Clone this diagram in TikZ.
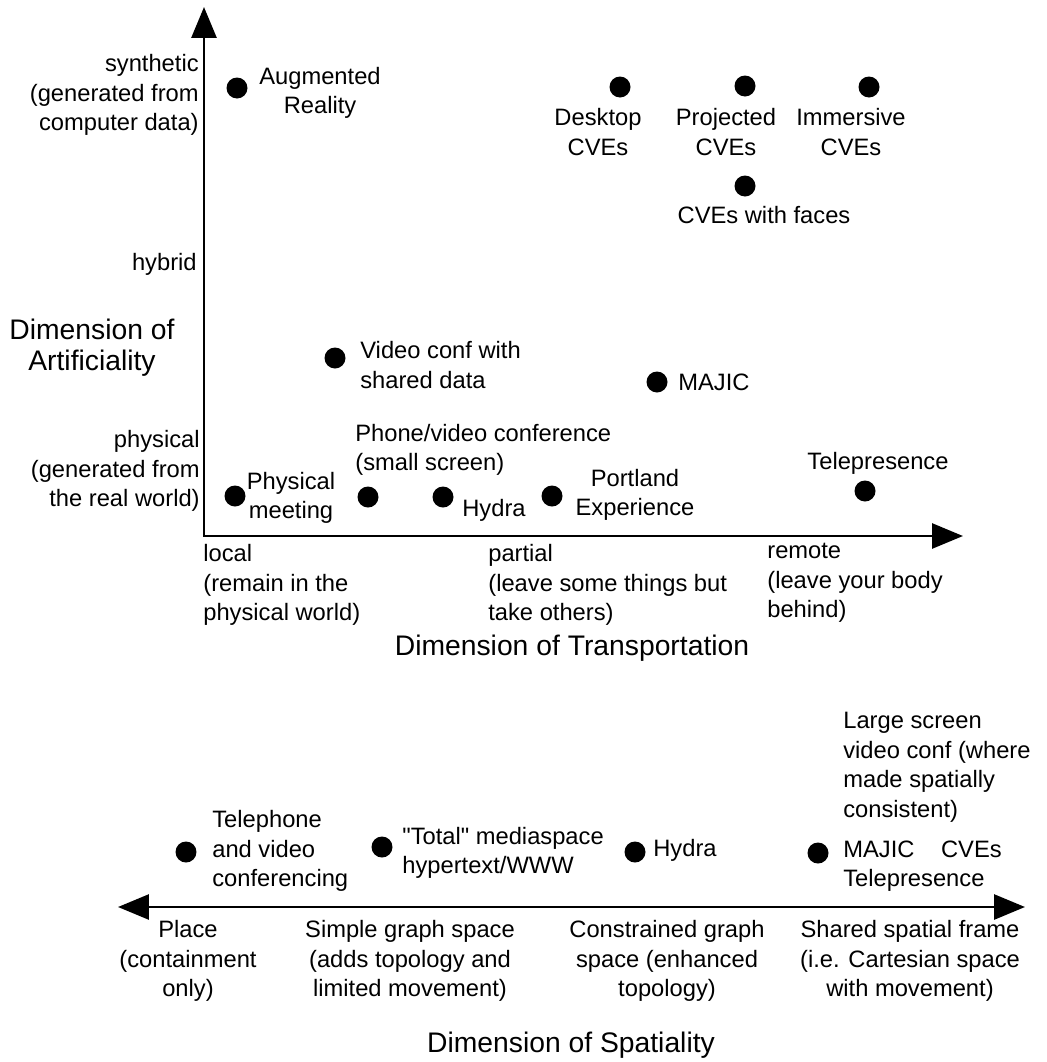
\documentclass[tikz,border=0pt]{standalone}
\usepackage{fontspec}
\setmainfont{Liberation Sans}[Ligatures=TeXOff]
\usetikzlibrary{arrows.meta}

\tikzset{
    dot/.style={circle, fill, inner sep=0pt, minimum size=0.42cm},
    lbl/.style={inner sep=0pt, font=\fontsize{13.5}{16.9}\selectfont},
    big/.style={inner sep=0pt, align=center, font=\fontsize{16.1}{17.8}\selectfont},
    axis/.style={line width=1.6pt, >={Triangle[length=0.62cm,width=0.5cm]}},
}

\begin{document}
\begin{tikzpicture}[x=0.02cm, y=-0.02cm]
        \useasboundingbox (0,0) rectangle (1046,1062);

        % artificiality / transportation
        \coordinate (o) at (204,536);
        \coordinate (ytop) at (204,7);
        \coordinate (xend) at (963,536);
        \draw[axis,<->] (ytop) -- (o) -- (xend);

        \node[lbl, anchor=east, align=right] (synth) at (199,95) {synthetic\\(generated from\\computer data)};
        \node[lbl, anchor=east] (hyb) at (197,264) {hybrid};
        \node[big] (dimart) at (92,348) {Dimension of\\Artificiality};
        \node[lbl, anchor=east, align=right] (phy) at (200,471) {physical\\(generated from\\the real world)};

        \node[lbl, anchor=west, align=left] (loc) at (203,585) {local\\(remain in the\\physical world)};
        \node[lbl, anchor=west, align=left] (part) at (488,585) {partial\\(leave some things but\\take others)};
        \node[lbl, anchor=west, align=left] (rem) at (767,583) {remote\\(leave your body\\behind)};
        \node[big] (dimtr) at (572,648) {Dimension of Transportation};

        \foreach \n/\x/\y in {aug/237/88, desk/620/87, proj/745/86, imm/869/87, faces/745/186,
                vid/335/358, majic/657/382, meet/235/496, phone/368/497, hydra/443/497,
                port/552/496, tele/865/491}
            \node[dot] (\n) at (\x,\y) {};

        \node[lbl, align=center] (augl) at (320,93) {Augmented\\Reality};
        \node[lbl, align=center] (deskl) at (598,132) {Desktop\\CVEs};
        \node[lbl, align=center] (projl) at (726,132) {Projected\\CVEs};
        \node[lbl, align=center] (imml) at (851,132) {Immersive\\CVEs};
        \node[lbl] (facesl) at (764,215) {CVEs with faces};
        \node[lbl, anchor=west, align=left] (vidl) at (360,365) {Video conf with\\shared data};
        \node[lbl, anchor=west] (majicl) at (678,382) {MAJIC};
        \node[lbl, anchor=west, align=left] (phonel) at (355,450) {Phone/video conference\\(small screen)};
        \node[lbl, align=center] (meetl) at (291,498) {Physical\\meeting};
        \node[lbl, anchor=west] (hydral) at (462,510) {Hydra};
        \node[lbl, align=center] (portl) at (635,495) {Portland\\Experience};
        \node[lbl] (telel) at (878,463) {Telepresence};

        % spatiality
        \coordinate (sl) at (118,907);
        \coordinate (sr) at (1025,907);
        \draw[axis,<->] (sl) -- (sr);

        \foreach \n/\x/\y in {tel/186/852, total/382/847, hyd/635/852, large/818/853}
            \node[dot] (\n) at (\x,\y) {};

        \node[lbl, anchor=west, align=left] (tell) at (212,851) {Telephone\\and video\\conferencing};
        \node[lbl, anchor=west, align=left] (totall) at (402,853) {"Total" mediaspace\\hypertext/WWW};
        \node[lbl, anchor=west] (hydl) at (653,850) {Hydra};
        \node[lbl, anchor=west, align=left] (largel) at (843,802) {Large screen\\video conf (where\\made spatially\\consistent)\\[0.2cm]MAJIC \hspace{0.4cm}CVEs\\Telepresence};

        \node[lbl, align=center] (place) at (188,961) {Place\\(containment\\only)};
        \node[lbl, align=center] (simple) at (410,961) {Simple graph space\\(adds topology and\\limited movement)};
        \node[lbl, align=center] (constr) at (667,961) {Constrained graph\\space (enhanced\\topology)};
        \node[lbl, align=center] (shared) at (910,961) {Shared spatial frame\\(i.e. Cartesian space\\with movement)};
        \node[big] (dimsp) at (571,1045) {Dimension of Spatiality};

    \end{tikzpicture}
\end{document}
